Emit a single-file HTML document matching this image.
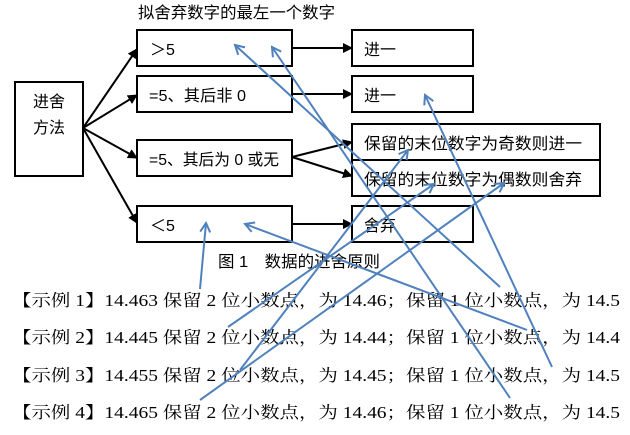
<!DOCTYPE html>
<html><head><meta charset="utf-8"><style>
html,body{margin:0;padding:0;background:#fff;}
svg{display:block;}
.d{font-family:"Liberation Sans","Noto Sans CJK SC",sans-serif;font-size:16px;fill:#000;}
.r{font-family:"Liberation Serif","Noto Serif CJK SC",serif;font-size:16.5px;fill:#000;}
</style></head><body>
<svg width="630" height="435" viewBox="0 0 630 435" xmlns="http://www.w3.org/2000/svg">
<defs>
<marker id="ba" markerWidth="10" markerHeight="10" refX="9" refY="5" orient="auto" markerUnits="userSpaceOnUse">
<path d="M0,0 L10,5 L0,10 Z" fill="#000"/></marker>
<marker id="bl" markerWidth="12" markerHeight="12" refX="10" refY="6" orient="auto" markerUnits="userSpaceOnUse">
<path d="M1,1 L10,6 L1,11" fill="none" stroke="#4f81bd" stroke-width="2"/></marker>
</defs>
<text class="d" x="138" y="18" textLength="197" lengthAdjust="spacingAndGlyphs">拟舍弃数字的最左一个数字</text>
<g fill="none" stroke="#000" stroke-width="2">
<rect x="15" y="82" width="68" height="94"/>
<rect x="137" y="30" width="155" height="36"/>
<rect x="137" y="76" width="155" height="36"/>
<rect x="137" y="140" width="155" height="36"/>
<rect x="137" y="206" width="155" height="36"/>
<rect x="352" y="30" width="121" height="36"/>
<rect x="352" y="76" width="121" height="36"/>
<rect x="352" y="124" width="248" height="72"/>
<line x1="352" y1="160" x2="600" y2="160"/>
<rect x="352" y="206" width="121" height="36"/>
</g>
<g stroke="#000" stroke-width="2" marker-end="url(#ba)">
<line x1="83" y1="128" x2="137" y2="49"/>
<line x1="83" y1="128" x2="137" y2="95"/>
<line x1="83" y1="128" x2="137" y2="158"/>
<line x1="83" y1="128" x2="137" y2="223"/>
<line x1="292" y1="48" x2="352" y2="48"/>
<line x1="292" y1="94" x2="352" y2="94"/>
<line x1="292" y1="157" x2="352" y2="142"/>
<line x1="292" y1="157" x2="352" y2="176"/>
<line x1="292" y1="224" x2="352" y2="224"/>
</g>
<text class="d" x="33" y="107">进舍</text>
<text class="d" x="33" y="133">方法</text>
<text class="d" x="150" y="55">＞5</text>
<text class="d" x="149" y="101" textLength="97" lengthAdjust="spacingAndGlyphs">=5、其后非 0</text>
<text class="d" x="149" y="165" textLength="130" lengthAdjust="spacingAndGlyphs">=5、其后为 0 或无</text>
<text class="d" x="150" y="231">＜5</text>
<text class="d" x="364" y="55">进一</text>
<text class="d" x="364" y="101">进一</text>
<text class="d" x="364" y="149" textLength="218" lengthAdjust="spacingAndGlyphs">保留的末位数字为奇数则进一</text>
<text class="d" x="364" y="185" textLength="218" lengthAdjust="spacingAndGlyphs">保留的末位数字为偶数则舍弃</text>
<text class="d" x="364" y="231">舍弃</text>
<text class="d" x="218" y="267" textLength="162" lengthAdjust="spacingAndGlyphs">图 1　数据的进舍原则</text>
<text class="r" x="12" y="306" textLength="608" lengthAdjust="spacingAndGlyphs">【示例 1】14.463 保留 2 位小数点，为 14.46；保留 1 位小数点，为 14.5</text>
<text class="r" x="12" y="343" textLength="608" lengthAdjust="spacingAndGlyphs">【示例 2】14.445 保留 2 位小数点，为 14.44；保留 1 位小数点，为 14.4</text>
<text class="r" x="12" y="381" textLength="608" lengthAdjust="spacingAndGlyphs">【示例 3】14.455 保留 2 位小数点，为 14.45；保留 1 位小数点，为 14.5</text>
<text class="r" x="12" y="418" textLength="608" lengthAdjust="spacingAndGlyphs">【示例 4】14.465 保留 2 位小数点，为 14.46；保留 1 位小数点，为 14.5</text>
<g stroke="#4f81bd" stroke-width="2" marker-end="url(#bl)">
<line x1="200" y1="289" x2="206" y2="223"/>
<line x1="228" y1="327" x2="434" y2="184"/>
<line x1="240" y1="370" x2="408" y2="150"/>
<line x1="200" y1="400" x2="504" y2="183"/>
<line x1="500" y1="287" x2="235" y2="45"/>
<line x1="527" y1="330" x2="245" y2="224"/>
<line x1="552" y1="367" x2="425" y2="95"/>
<line x1="510" y1="398" x2="272" y2="47"/>
</g>
</svg>
</body></html>
